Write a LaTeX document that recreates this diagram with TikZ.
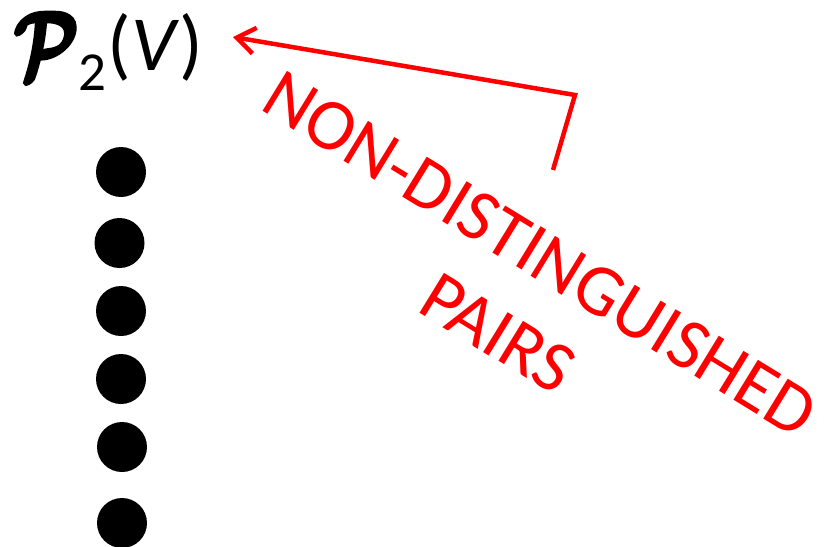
\documentclass[tikz,border=0pt]{standalone}
\usepackage{fontspec}
\usepackage{graphicx}
\setmainfont{Carlito}
\usetikzlibrary{arrows.meta}
\definecolor{pred}{RGB}{255,0,0}
\newsavebox{\mytitlebox}
\tikzset{
  dot/.style={circle,fill=black,inner sep=0pt,minimum size=50pt},
  redlabel/.style={text=pred,font=\fontsize{73}{73}\selectfont,inner sep=0pt,rotate=-31.5,anchor=base west},
  redline/.style={draw=pred,line width=4.5pt}
}
\begin{document}
\sbox{\mytitlebox}{\raisebox{-8pt}{\scalebox{7.2}[9.5]{\normalsize\boldmath\special{pdf:literal direct 2 Tr 0.45 w}$\mathcal{P}$\special{pdf:literal direct 0 Tr}}}\kern0pt\raisebox{-20pt}{\fontsize{55}{55}\selectfont 2}\kern1pt{\fontsize{78}{78}\selectfont(\textit{V})}}%
\begin{tikzpicture}[x=1pt,y=1pt]
\useasboundingbox (0,0) rectangle (837,-546);
\node[anchor=base west,inner sep=0pt] (title) at (14,-70) {\usebox{\mytitlebox}};
\node[dot] (d1) at (121,-172) {};
\node[dot] (d2) at (119.5,-243) {};
\node[dot] (d3) at (121,-311) {};
\node[dot] (d4) at (121,-379) {};
\node[dot] (d5) at (122,-447) {};
\node[dot] (d6) at (122,-523) {};
\node[redlabel] (l1) at (258,-108.6) {NON-DISTINGUISHED};
\node[redlabel] (l2) at (415,-310) {PAIRS};
\coordinate (foot) at (553,-170);
\coordinate (bend) at (575,-95);
\coordinate (tip) at (233,-37);
\draw[redline,-{Straight Barb[length=18pt,width=26pt]}] (foot) -- (bend) -- (tip);
\end{tikzpicture}
\end{document}
